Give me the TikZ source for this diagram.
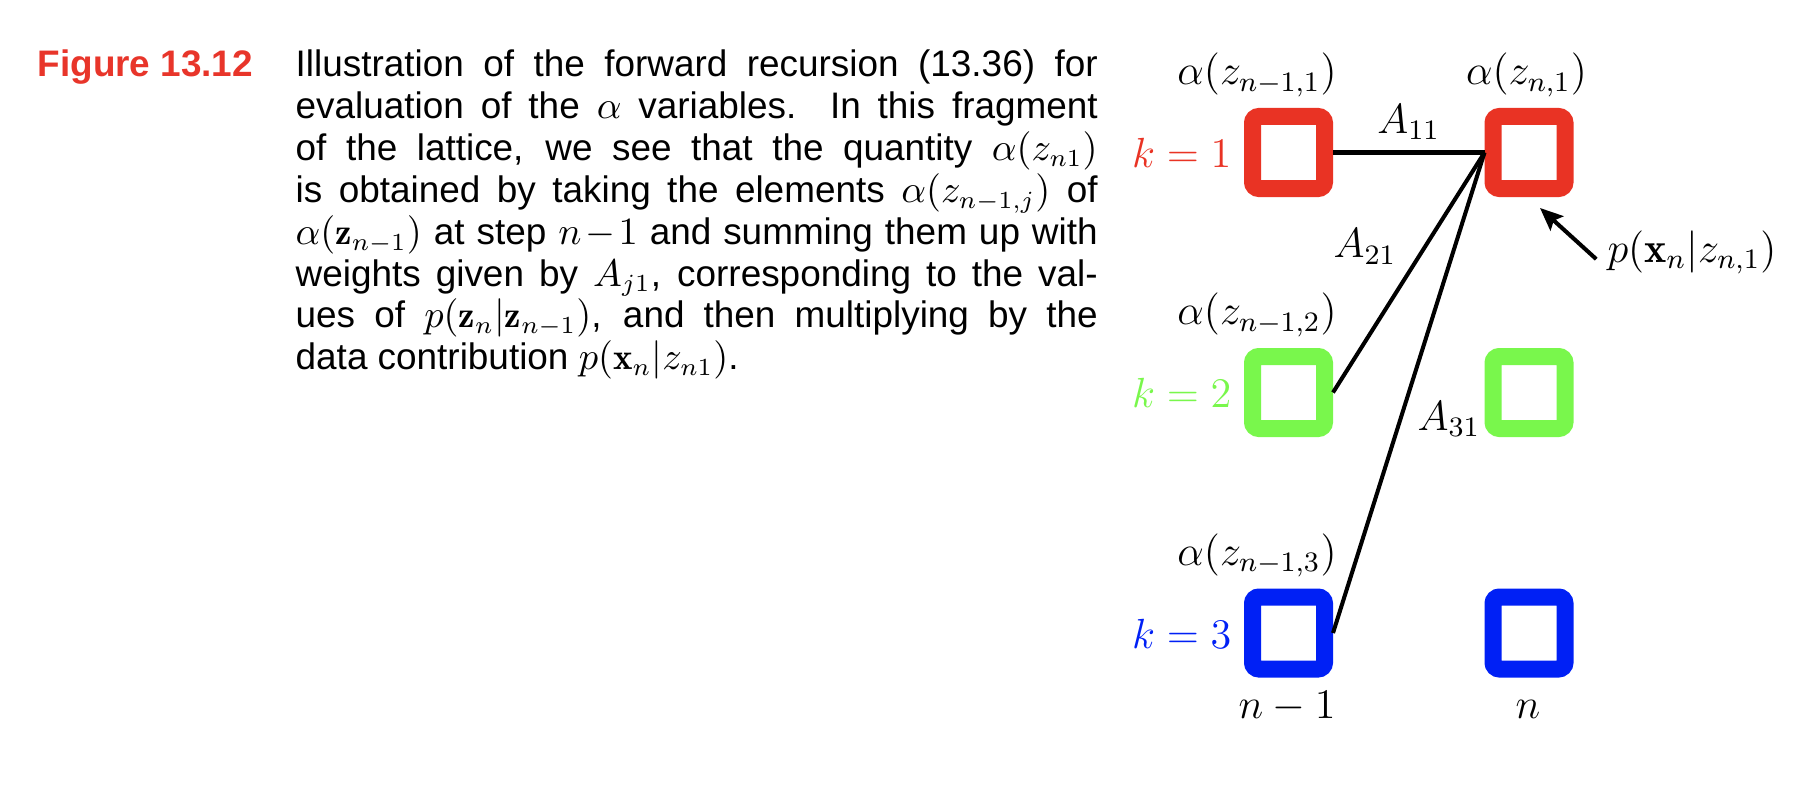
\documentclass[tikz,border=0pt]{standalone}
\usepackage{amsmath, amssymb}
\usepackage{xcolor}
\usepackage{fontspec}
\usepackage{tikz}
\usetikzlibrary{positioning, arrows.meta}
\newfontfamily\capfont{Liberation Sans}
\definecolor{StateRed}{HTML}{E93324}
\definecolor{StateGreen}{HTML}{79F74C}
\definecolor{StateBlue}{HTML}{0020F5}
\definecolor{FigRed}{HTML}{E8352A}

\begin{document}
\begin{tikzpicture}[
  >=stealth,
  cell/.style={draw, fill=white, line width=0.17cm, rounded corners=0.065cm,
               minimum size=0.72cm, inner sep=0pt},
  wire/.style={line width=1.15pt},
  pointer/.style={-{Stealth[length=6.5pt, width=5.5pt, inset=1.2pt]}, line width=1.15pt},
  lbl/.style={font=\fontsize{12}{14}\selectfont, inner sep=0pt, anchor=base},
  klbl/.style={font=\fontsize{12}{14}\selectfont, inner sep=0pt, anchor=base east},
  capt/.style={font=\capfont\fontsize{10.5}{11.9}\selectfont, inner sep=0pt,
               anchor=base west, text width=8.02cm, align=justify},
]
  \useasboundingbox (0,0) rectangle (18.18,7.96);

% ===== Caption =====
  \node[anchor=base west, inner sep=0pt, text=FigRed,
        font=\capfont\bfseries\fontsize{10.5}{12}\selectfont]
    (fig) at (0.37,7.19) {Figure 13.12};
  \node[capt] (caption) at (2.95,7.19) {Illustration of the forward recursion (13.36) for\linebreak
    evaluation of the $\alpha$ variables.  In this fragment\linebreak
    of the lattice, we see that the quantity $\alpha(z_{n1})$\linebreak
    is obtained by taking the elements $\alpha(z_{n-1,j})$ of\linebreak
    $\alpha(\mathbf{z}_{n-1})$ at step $n\!-\!1$ and summing them up with\linebreak
    weights given by $A_{j1}$, corresponding to the val-\linebreak
    ues of $p(\mathbf{z}_n|\mathbf{z}_{n-1})$, and then multiplying by the\linebreak
    data contribution $p(\mathbf{x}_n|z_{n1})$.};

% ===== Lattice : steps n-1 and n, states k = 1,2,3 =====
  \node[cell, draw=StateRed]   (a1) at (12.885,6.435) {};
  \node[cell, draw=StateGreen] (a2) at (12.885,4.035) {};
  \node[cell, draw=StateBlue]  (a3) at (12.885,1.63) {};
  \node[cell, draw=StateRed]   (b1) at (15.29,6.435) {};
  \node[cell, draw=StateGreen] (b2) at (15.29,4.035) {};
  \node[cell, draw=StateBlue]  (b3) at (15.29,1.63) {};

  \node[lbl] (al1) at (12.57,7.11) {$\alpha(z_{n-1,1})$};
  \node[lbl] (al2) at (12.57,4.71) {$\alpha(z_{n-1,2})$};
  \node[lbl] (al3) at (12.57,2.31) {$\alpha(z_{n-1,3})$};
  \node[lbl] (bl1) at (15.265,7.11) {$\alpha(z_{n,1})$};

  \node[klbl, text=StateRed]   (k1) at (12.32,6.29) {$k=1$};
  \node[klbl, text=StateGreen] (k2) at (12.32,3.885) {$k=2$};
  \node[klbl, text=StateBlue]  (k3) at (12.32,1.48) {$k=3$};

  \node[lbl] (stepa) at (12.87,0.78) {$n-1$};
  \node[lbl] (stepb) at (15.28,0.78) {$n$};

  \draw[wire] (a1.east) -- (b1.west)
    node[lbl, midway, yshift=0.195cm] (w11) {$A_{11}$};
  \draw[wire] (a2.east) -- (b1.west);
  \draw[wire] (a3.east) -- (b1.west);
  \node[lbl] (w21) at (13.65,5.38) {$A_{21}$};
  \node[lbl] (w31) at (14.49,3.66) {$A_{31}$};

  \node[lbl] (obs) at (16.92,5.34) {$p(\mathbf{x}_n|z_{n,1})$};
  \coordinate (obstip) at (15.40,5.88);
  \draw[pointer] ([xshift=-3pt,yshift=-2pt]obs.west) -- (obstip);

\end{tikzpicture}
\end{document}
